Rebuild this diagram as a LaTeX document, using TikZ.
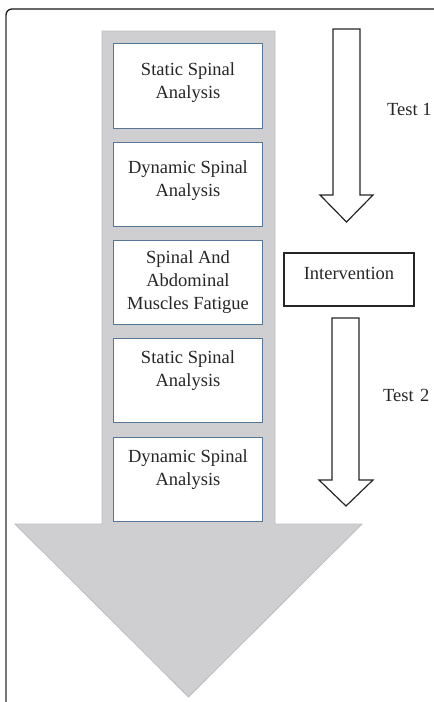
\documentclass[tikz,border=0pt]{standalone}
\usepackage{fontspec}
\setmainfont{Liberation Serif}
\definecolor{arrowgray}{RGB}{207,206,208}
\definecolor{arrowedge}{RGB}{190,189,191}
\definecolor{boxedge}{RGB}{86,118,152}
\definecolor{framegray}{RGB}{120,120,120}
\begin{document}
\begin{tikzpicture}[x=1pt,y=-1pt,
  stepbox/.style={draw=boxedge,line width=1.1pt,fill=white,minimum width=149pt,minimum height=84.5pt,inner sep=0pt},
  steptext/.style={font=\fontsize{18.5}{23}\selectfont,align=center,anchor=north,inner sep=0pt,text=black!85},
  plain/.style={font=\fontsize{18.5}{23}\selectfont,inner sep=0pt,text=black!85},
  outarrow/.style={draw=black!85,line width=1.2pt,fill=white,line join=miter}]
\useasboundingbox (0,0) rectangle (434,702);
% frame
\draw[framegray,line width=1.6pt] (6,702) -- (6,15);
\draw[black!90,line width=1.3pt] (6,15) arc[start angle=180,end angle=270,radius=6] -- (434,9);
% big gray arrow
\draw[arrowedge,fill=arrowgray,line width=0.8pt] (102,31) -- (275,31) -- (275,524) -- (362,524) -- (188.5,697) -- (15,524) -- (102,524) -- cycle;
% boxes
\node[stepbox] (b1) at (188,86) {};
\node[stepbox] (b2) at (188,184.5) {};
\node[stepbox] (b3) at (188,282.5) {};
\node[stepbox] (b4) at (188,380.5) {};
\node[stepbox] (b5) at (188,479.5) {};
\node[steptext] (t1) at (188,62.5) {Static Spinal\\Analysis};
\node[steptext] (t2) at (188,160.5) {Dynamic Spinal\\Analysis};
\node[steptext] (t3) at (188,250.5) {Spinal And\\Abdominal\\Muscles Fatigue};
\node[steptext] (t4) at (188,350.5) {Static Spinal\\Analysis};
\node[steptext] (t5) at (188,449.5) {Dynamic Spinal\\Analysis};
% outline arrows
\draw[outarrow] (333,29) -- (360,29) -- (360,195) -- (373,195) -- (346.5,222) -- (320,195) -- (333,195) -- cycle;
\draw[outarrow] (332,318) -- (359,318) -- (359,480) -- (373,480) -- (346,506) -- (319,480) -- (332,480) -- cycle;
% intervention
\node[draw=black!85,line width=1.2pt,minimum width=130pt,minimum height=53pt,text height=10pt,text depth=10pt,plain] (iv) at (349,279.5) {Intervention};
\node[plain,anchor=base west] (test1) at (387,115) {Test 1};
\node[plain,anchor=base west] (test2) at (383,401) {Test\hspace{0.35em}2};
\end{tikzpicture}
\end{document}
